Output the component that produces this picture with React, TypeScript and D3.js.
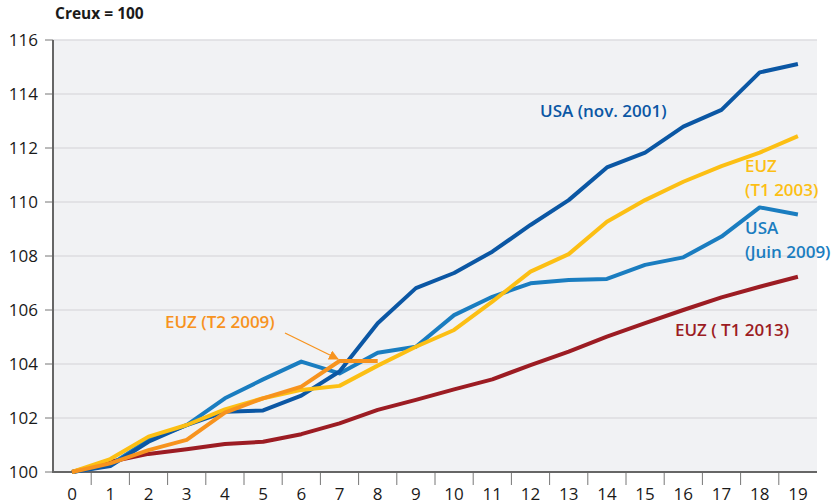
import React from 'react'
import * as d3 from 'd3'

// trimestres depuis le creux
const quarters = [0, 1, 2, 3, 4, 5, 6, 7, 8, 9, 10, 11, 12, 13, 14, 15, 16, 17, 18, 19]
const yTicks = [100, 102, 104, 106, 108, 110, 112, 114, 116]

const usaNov2001 = [100, 100.22, 101.12, 101.74, 102.23, 102.28, 102.83, 103.72, 105.51, 106.81, 107.37, 108.16, 109.15, 110.07, 111.28, 111.83, 112.79, 113.41, 114.8, 115.11]
const euzT12003 = [100, 100.48, 101.31, 101.74, 102.32, 102.73, 103.04, 103.19, 103.94, 104.64, 105.26, 106.31, 107.42, 108.07, 109.27, 110.07, 110.75, 111.33, 111.83, 112.44]
const usaJuin2009 = [100, 100.26, 101.19, 101.74, 102.73, 103.43, 104.09, 103.65, 104.42, 104.64, 105.81, 106.49, 106.99, 107.11, 107.15, 107.67, 107.95, 108.72, 109.8, 109.54]
const euzT22009 = [100, 100.32, 100.81, 101.19, 102.2, 102.73, 103.16, 104.11, 104.11]
const euzT12013 = [100, 100.38, 100.67, 100.84, 101.04, 101.12, 101.4, 101.8, 102.3, 102.67, 103.06, 103.43, 103.96, 104.46, 105.01, 105.51, 106.0, 106.47, 106.86, 107.23]

const W = 838
const H = 504
const left = 53
const right = 817
const top = 40
const bottom = 472
const font = "'Open Sans', 'DejaVu Sans', sans-serif"

const series = [
  { name: 'EUZ ( T1 2013)', values: euzT12013, color: '#9c1c23' },
  { name: 'USA (Juin 2009)', values: usaJuin2009, color: '#1a7dc0' },
  { name: 'USA (nov. 2001)', values: usaNov2001, color: '#0b57a4' },
  { name: 'EUZ (T1 2003)', values: euzT12003, color: '#fcbf14' },
  { name: 'EUZ (T2 2009)', values: euzT22009, color: '#f7931e' },
]

export default function App() {
  const xBand = d3.scaleBand<number>().domain(quarters).range([left, right])
  const x = (q: number) => (xBand(q) as number) + xBand.bandwidth() / 2
  const y = d3.scaleLinear().domain([100, 116]).range([bottom, top])

  const line = d3.line<number>()
    .x((_, i) => x(quarters[i]))
    .y(d => y(d))

  return (
    <div style={{ position: 'absolute', left: 0, top: 0 }}>
      <svg width={W} height={H} style={{ display: 'block', fontFamily: font }}>
        <defs>
          <marker id="arr" viewBox="0 0 10 10" refX="9" refY="5" markerWidth="10" markerHeight="10" orient="auto" markerUnits="userSpaceOnUse">
            <path d="M0,0 L10,5 L0,10 z" fill="#f7931e" />
          </marker>
        </defs>
        <rect x={left} y={top} width={right - left} height={bottom - top} fill="#f1f2f4" />
        {yTicks.slice(1).map(t => (
          <line key={'g' + t} x1={left} x2={right} y1={y(t)} y2={y(t)} stroke="#dcdde1" strokeWidth={1.3} />
        ))}
        {yTicks.map(t => (
          <g key={'y' + t}>
            <line x1={left - 8} x2={left} y1={y(t)} y2={y(t)} stroke="#777" strokeWidth={1} />
            <text x={38} y={y(t)} dy="0.36em" textAnchor="end" fontSize={17} fill="#1a1a1a">{t}</text>
          </g>
        ))}
        {quarters.slice(1).map(q => (
          <line key={'xt' + q} x1={xBand(q) as number} x2={xBand(q) as number} y1={bottom} y2={bottom + 13} stroke="#777" strokeWidth={1} />
        ))}
        {quarters.map(q => (
          <text key={'xl' + q} x={x(q)} y={500} textAnchor="middle" fontSize={17} fill="#1a1a1a">{q}</text>
        ))}
        <line x1={left} x2={left} y1={top} y2={bottom + 1} stroke="#666" strokeWidth={2} />
        <line x1={left - 1} x2={right} y1={bottom} y2={bottom} stroke="#666" strokeWidth={2} />

        {series.map(s => (
          <path key={s.name} d={line(s.values) as string} fill="none" stroke={s.color} strokeWidth={4} strokeLinejoin="round" />
        ))}

        <line x1={285} y1={333} x2={338} y2={359} stroke="#f7931e" strokeWidth={1.3} markerEnd="url(#arr)" />

        <text x={55} y={19} fontSize={15.5} fontWeight={700} fill="#1a1a1a">Creux = 100</text>
        <g fontSize={17} fontWeight={600}>
          <text x={540} y={117} fill="#0b57a4">USA (nov. 2001)</text>
          <text x={745} y={172} fill="#fcbf14">EUZ</text>
          <text x={745} y={195.5} fill="#fcbf14">(T1 2003)</text>
          <text x={745} y={234} fill="#1a7dc0">USA</text>
          <text x={745} y={257.5} fill="#1a7dc0">(Juin 2009)</text>
          <text x={675} y={336} fill="#9c1c23">EUZ ( T1 2013)</text>
          <text x={165} y={328} fill="#f7931e">EUZ (T2 2009)</text>
        </g>
      </svg>
    </div>
  )
}
